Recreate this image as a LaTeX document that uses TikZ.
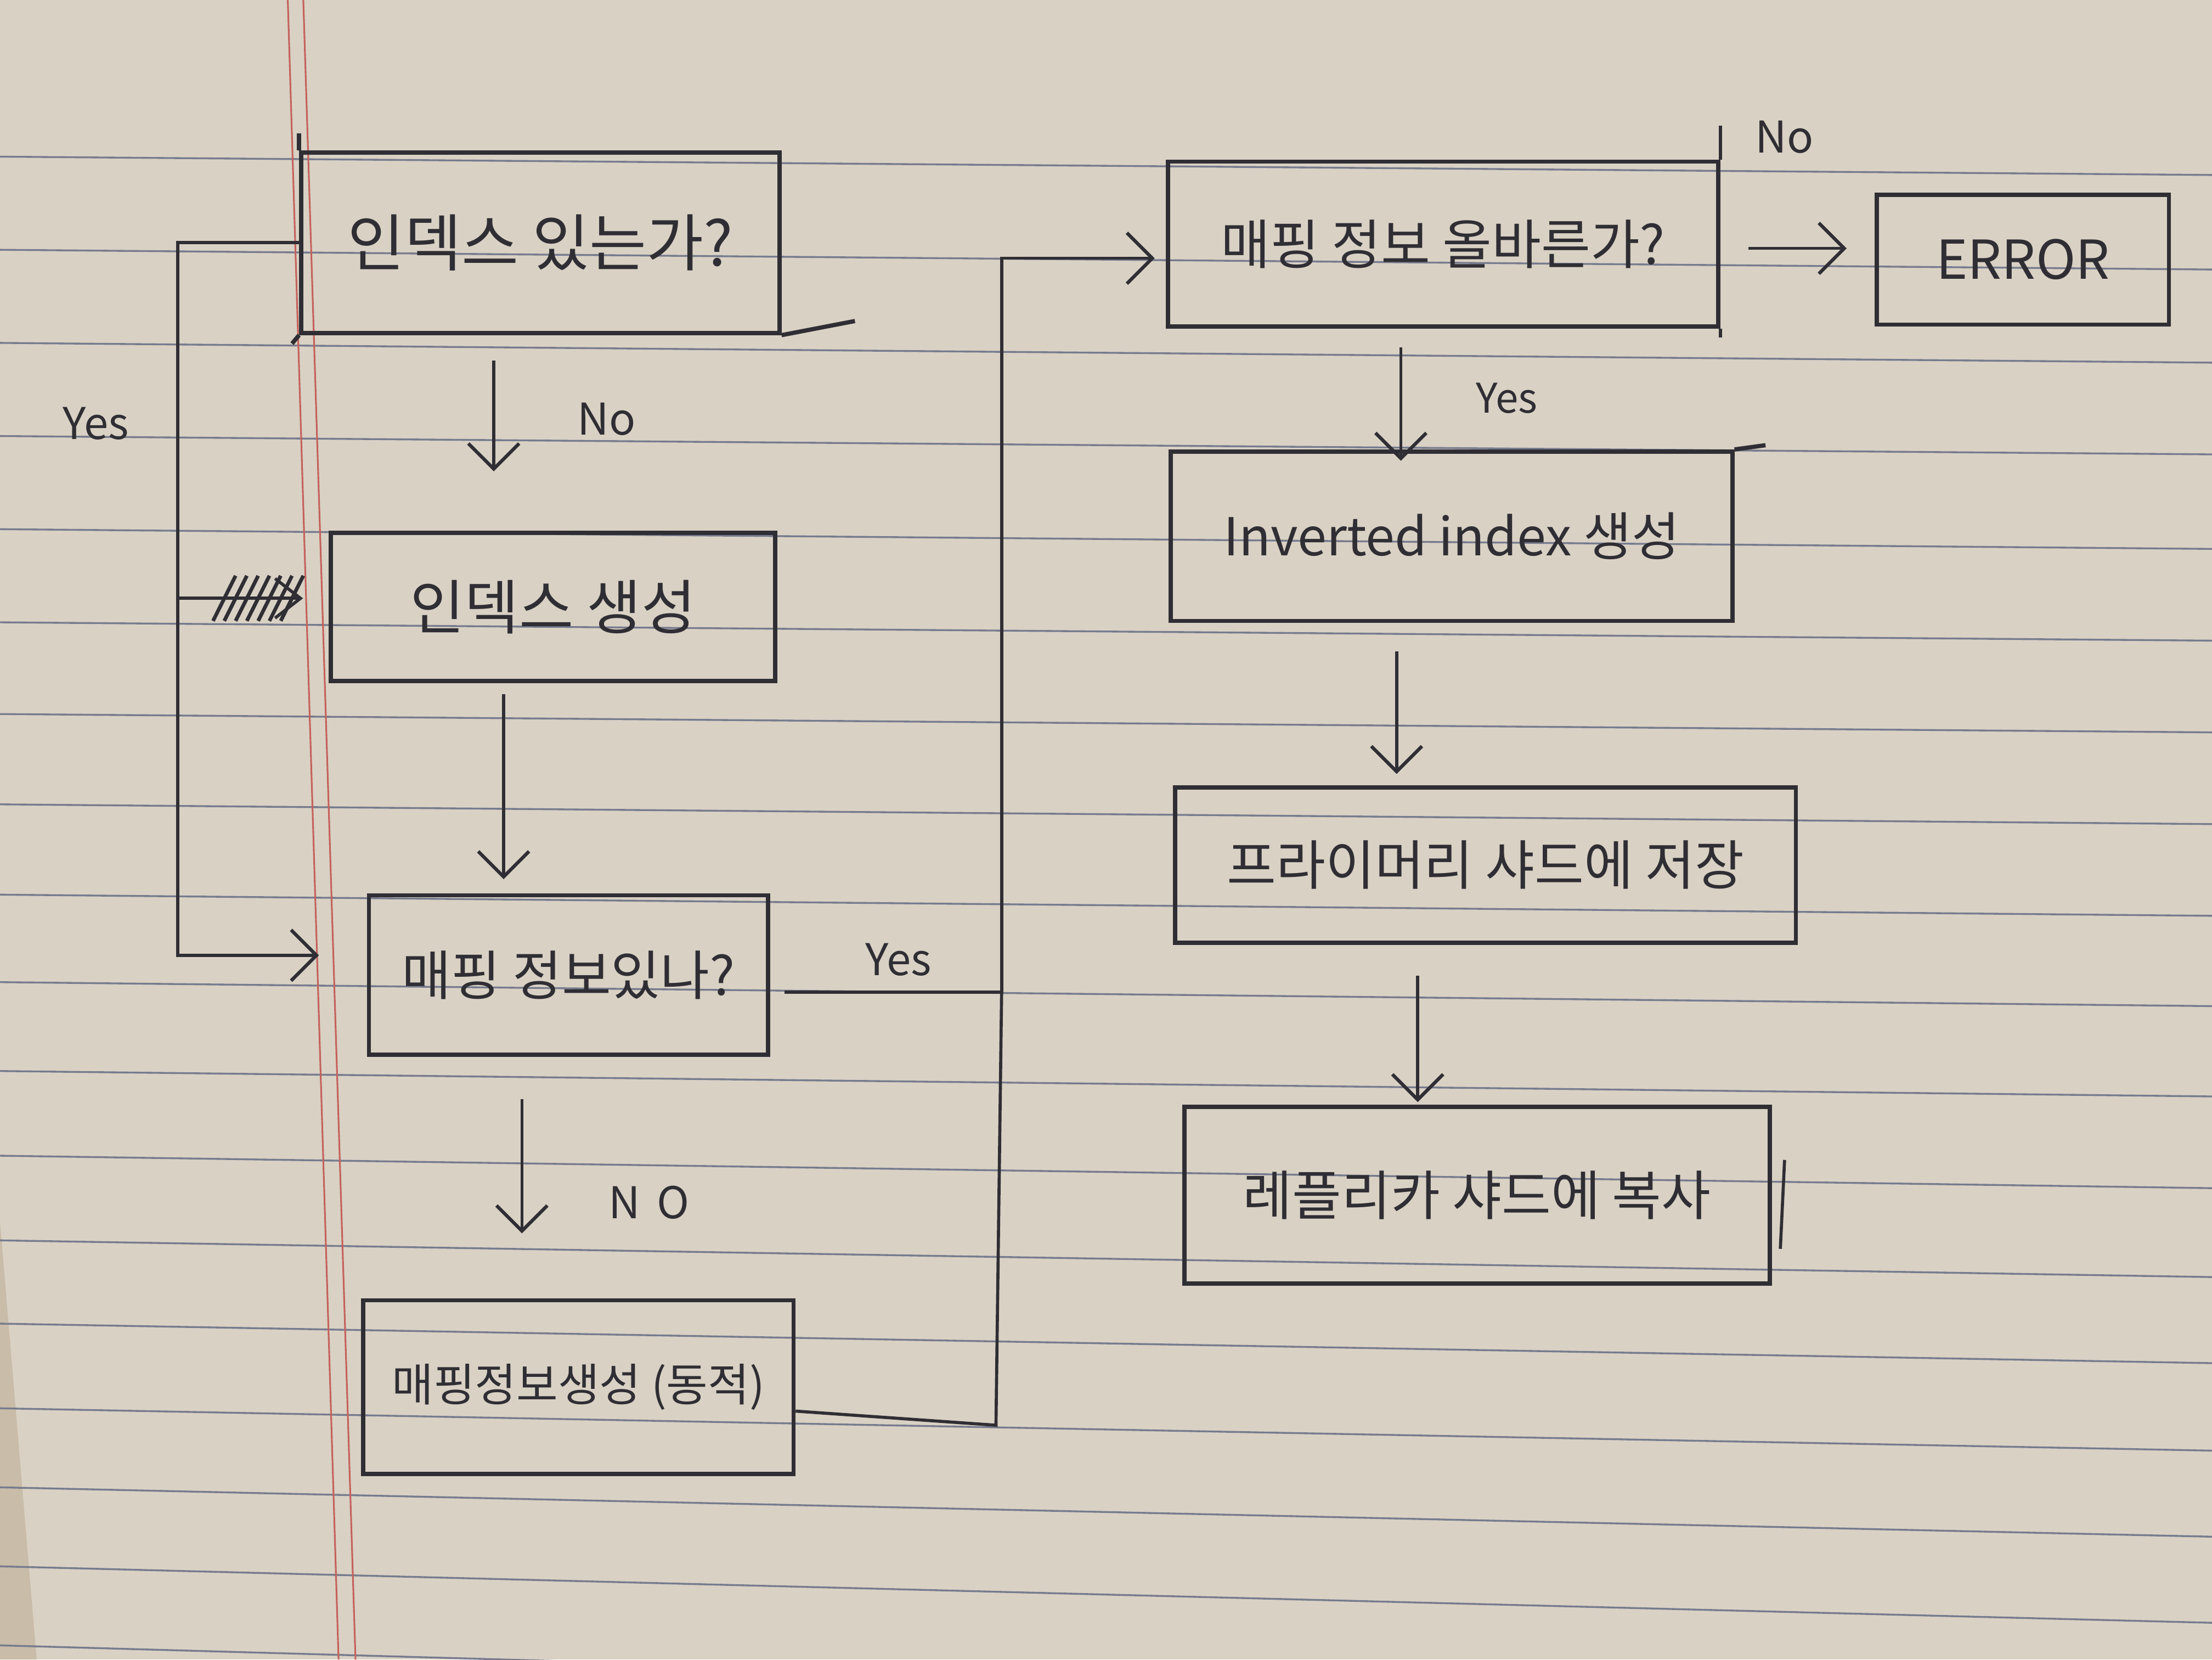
\documentclass[tikz,border=0pt]{standalone}
\usepackage{fontspec}
\setmainfont{Noto Sans CJK KR}
\usetikzlibrary{arrows.meta,calc}
\definecolor{paper}{HTML}{D9D1C4}
\definecolor{paperdark}{HTML}{C9BCA8}
\definecolor{rulec}{HTML}{767B8E}
\definecolor{redm}{HTML}{C4625C}
\definecolor{ink}{HTML}{2F2E34}
\begin{document}
\begin{tikzpicture}[x=1pt,y=-1pt,
  box/.style={draw=ink, line width=3pt, inner sep=0pt, text=ink, align=center},
  arr/.style={draw=ink, line width=2.2pt, -{Straight Barb[length=18pt,width=36pt,line width=2.4pt]}},
  wire/.style={draw=ink, line width=2.2pt},
  lbl/.style={text=ink, inner sep=0pt, font=\fontsize{31}{35}\selectfont}]
% paper
\fill[paper] (0,0) rectangle (1568,1176);
\useasboundingbox (0,0) rectangle (1568,1176);
\fill[paperdark] (0,866) -- (26,1176) -- (0,1176) -- cycle;
\foreach \l/\r in {111/124,177/191,243/257,309/322,375/389,441/454,506/519,570/584,634/649,696/713,759/777,819/842,879/905,938/966,998/1028,1054/1089,1110/1150,1166/1210}
  \draw[rulec, line width=1.3pt] (0,\l) -- (1568,\r);
\draw[redm, line width=1.2pt] (204,0) -- (240,1176);
\draw[redm, line width=1.2pt] (215,0) -- (252,1176);

% boxes
\node[box, minimum width=339pt, minimum height=128pt, font=\fontsize{44}{48}\selectfont] (b1) at (383,172) {인덱스 있는가?};
\node[box, minimum width=315pt, minimum height=105pt, font=\fontsize{42}{46}\selectfont] (b2) at (392,430) {인덱스 생성};
\node[box, minimum width=283pt, minimum height=113pt, font=\fontsize{38}{42}\selectfont] (b3) at (403,691) {매핑 정보있나?};
\node[box, minimum width=305pt, minimum height=123pt, font=\fontsize{32}{36}\selectfont] (b4) at (410,983) {매핑정보생성 (동적)};
\node[box, minimum width=390pt, minimum height=117pt, font=\fontsize{38}{42}\selectfont] (b5) at (1023,173) {매핑 정보 올바른가?};
\node[box, minimum width=207pt, minimum height=92pt, font=\fontsize{38}{42}\selectfont] (err) at (1434,184) {ERROR};
\node[box, minimum width=398pt, minimum height=120pt, font=\fontsize{37}{41}\selectfont] (b6) at (1029,380) {Inverted index 생성};
\node[box, minimum width=440pt, minimum height=110pt, font=\fontsize{38}{42}\selectfont] (b7) at (1053,613) {프라이머리 샤드에 저장};
\node[box, minimum width=415pt, minimum height=125pt, font=\fontsize{38}{42}\selectfont] (b8) at (1047,847) {레플리카 샤드에 복사};

% hand-drawn edge overruns
\draw[wire, line width=3pt] (b1.south east) -- ++(52,-10);
\draw[wire, line width=3pt] (b1.south west) -- ++(-5,6);
\draw[wire, line width=3pt] (b1.north west) -- ++(0,-12);
\draw[wire] (b5.north east) -- ++(0,-24);
\draw[wire] (b5.south east) -- ++(0,6);
\draw[wire, line width=3pt] (b6.north east) -- ++(22,-3);
\draw[wire] ([xshift=9pt,yshift=25pt]b8.east) -- ([xshift=6pt,yshift=-38pt]b8.east);

% connector coordinates
\coordinate (yx) at (126,0);
\coordinate (tx) at (710,0);
\coordinate (b3out) at ([yshift=-12pt]b3.east);
\coordinate (b3in) at ([yshift=14pt]b3.west);
\coordinate (b5in) at ([yshift=-10pt]b5.west);
\coordinate (b2stub) at ([xshift=-20pt,yshift=6pt]b2.west);

% No: b1 -> b2
\draw[arr, shorten <=18pt, shorten >=42pt] ([xshift=-33pt]b1.south) -- ([xshift=-33pt]b1.south |- b2.north);
% Yes loop: b1 -> b3
\draw[arr, shorten >=34pt] (b1.west) -- (b1.west -| yx) -- (yx |- b3in) -- (b3in);
% crossed-out stub to b2
\draw[wire] (yx |- b2stub) -- (b2stub);
\draw[wire] ([xshift=-18pt,yshift=14pt]b2stub) -- (b2stub) -- ([xshift=-18pt,yshift=-14pt]b2stub);
\foreach \dx in {0,8,16,24,32,40,48}
  \draw[wire, line width=2.6pt] ([xshift=-62pt+\dx pt,yshift=-16pt]b2stub) -- ([xshift=-46pt+\dx pt,yshift=16pt]b2stub);
% b2 -> b3
\draw[arr, shorten <=8pt, shorten >=10pt] ([xshift=-35pt]b2.south) -- ([xshift=-35pt]b2.south |- b3.north);
% NO: b3 -> b4
\draw[arr, shorten <=30pt, shorten >=46pt] ([xshift=-33pt]b3.south) -- ([xshift=-33pt]b3.south |- b4.north);
% Yes: b3 -> b5
\draw[arr, shorten <=10pt, shorten >=8pt] (b3out) -- (b3out -| tx) -- (tx |- b5in) -- (b5in);
% b4 -> trunk
\draw[wire] ([yshift=-17pt]b4.east) -- ++(142,10) -- (b3out -| tx);
% No: b5 -> ERROR
\draw[arr, shorten <=20pt, shorten >=20pt] ([yshift=-3pt]b5.east) -- ([yshift=-3pt]b5.east -| err.west);
% Yes: b5 -> b6
\draw[arr, shorten <=13pt, shorten >=-8pt] ([xshift=-30pt]b5.south) -- ([xshift=-30pt]b5.south |- b6.north);
% b6 -> b7
\draw[arr, shorten <=20pt, shorten >=8pt] ([xshift=-39pt]b6.south) -- ([xshift=-39pt]b6.south |- b7.north);
% b7 -> b8
\draw[arr, shorten <=22pt, shorten >=2pt] ([xshift=-48pt]b7.south) -- ([xshift=-48pt]b7.south |- b8.north);

% labels
\node[lbl] (ly1) at (68,300) {Yes};
\node[lbl] (ln1) at (430,297) {No};
\node[lbl] (ly2) at (637,680) {Yes};
\node[lbl] (ln2) at (460,852) {N\hspace{12pt}O};
\node[lbl] (ln3) at (1265,97) {No};
\node[lbl, font=\fontsize{29}{33}\selectfont] (ly3) at (1068,282) {Yes};
\end{tikzpicture}
\end{document}
